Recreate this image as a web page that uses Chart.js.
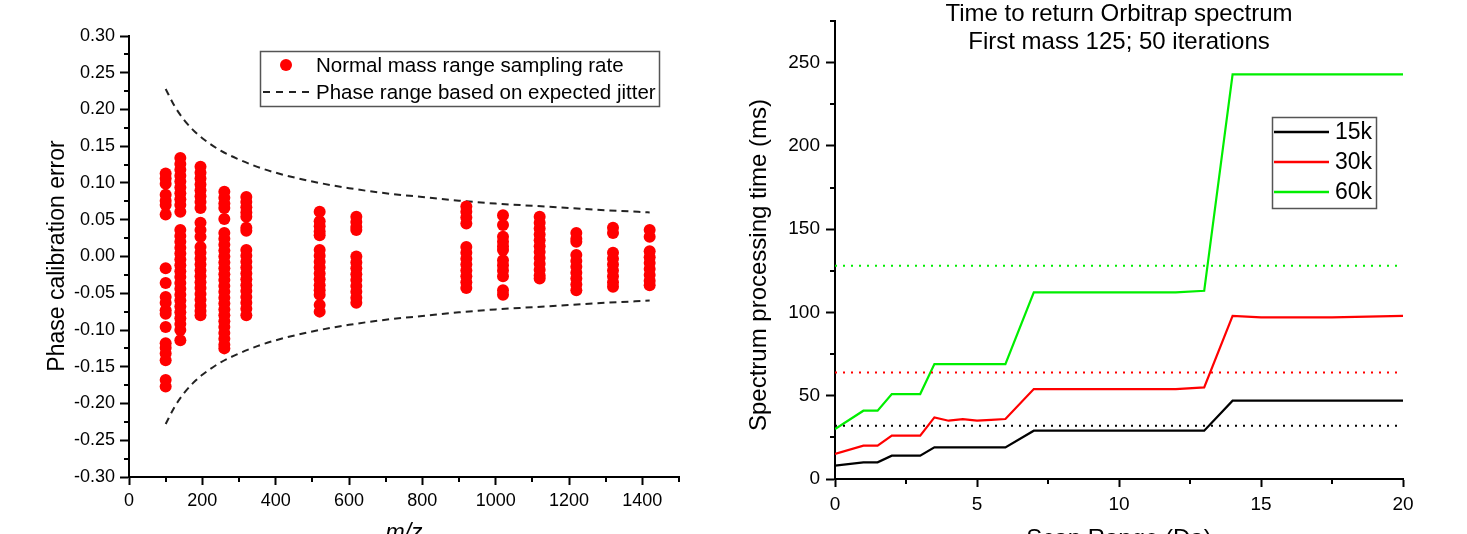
<!DOCTYPE html>
<html><head><meta charset="utf-8">
<script src="https://cdn.jsdelivr.net/npm/chart.js@4"></script>
<style>
html,body{margin:0;padding:0;background:#fff;width:1467px;height:534px;overflow:hidden;}
#c1{position:absolute;left:0;top:0;}
#c2{position:absolute;left:700px;top:0;}
</style></head><body>
<canvas id="c1" width="700" height="534"></canvas>
<canvas id="c2" width="767" height="534"></canvas>
<script>
// ---------- Left chart data: phase calibration error per m/z column ----------
const err100  = [0.113, 0.106, 0.099, 0.084, 0.076, 0.070, 0.057, -0.016, -0.036, -0.055, -0.063, -0.073, -0.078, -0.096, -0.118, -0.124, -0.132, -0.141, -0.168, -0.177];
const err140  = [0.134, 0.126, 0.118, 0.110, 0.102, 0.094, 0.086, 0.078, 0.070, 0.061, 0.036, 0.028, 0.020, 0.012, 0.004, -0.004, -0.012, -0.020, -0.028, -0.036, -0.044, -0.052, -0.060, -0.068, -0.076, -0.084, -0.092, -0.100, -0.114];
const err195  = [0.122, 0.114, 0.106, 0.098, 0.090, 0.082, 0.074, 0.066, 0.046, 0.036, 0.027, 0.013, 0.005, -0.003, -0.011, -0.019, -0.027, -0.035, -0.043, -0.051, -0.059, -0.067, -0.074, -0.080];
const err260  = [0.088, 0.080, 0.072, 0.066, 0.051, 0.032, 0.024, 0.016, 0.008, 0.000, -0.008, -0.016, -0.024, -0.032, -0.040, -0.048, -0.056, -0.064, -0.072, -0.080, -0.088, -0.096, -0.104, -0.112, -0.120, -0.125];
const err320  = [0.081, 0.074, 0.067, 0.060, 0.054, 0.039, 0.035, 0.009, 0.001, -0.007, -0.015, -0.023, -0.031, -0.039, -0.047, -0.055, -0.063, -0.071, -0.080];
const err520  = [0.061, 0.048, 0.041, 0.034, 0.029, 0.009, 0.001, -0.007, -0.015, -0.023, -0.031, -0.039, -0.046, -0.052, -0.066, -0.075];
const err620  = [0.054, 0.047, 0.040, 0.036, 0.000, -0.008, -0.016, -0.024, -0.032, -0.040, -0.048, -0.056, -0.063];
const err920  = [0.068, 0.061, 0.053, 0.045, 0.013, 0.005, -0.003, -0.011, -0.019, -0.027, -0.035, -0.043];
const err1020 = [0.056, 0.043, 0.027, 0.020, 0.014, 0.009, -0.005, -0.012, -0.019, -0.027, -0.046, -0.052];
const err1120 = [0.054, 0.046, 0.038, 0.030, 0.022, 0.014, 0.006, -0.002, -0.010, -0.018, -0.026, -0.030];
const err1220 = [0.032, 0.024, 0.020, 0.002, -0.006, -0.014, -0.022, -0.030, -0.038, -0.046];
const err1320 = [0.039, 0.032, 0.005, -0.003, -0.011, -0.019, -0.027, -0.035, -0.041];
const err1420 = [0.036, 0.027, 0.007, -0.001, -0.009, -0.017, -0.025, -0.033, -0.039];
const columnMz = [100, 140, 195, 260, 320, 520, 620, 920, 1020, 1120, 1220, 1320, 1420];
const columnErr = [err100, err140, err195, err260, err320, err520, err620, err920, err1020, err1120, err1220, err1320, err1420];

// Expected-jitter envelope
const jitterMz    = [100, 125, 150, 175, 200, 250, 300, 350, 400, 500, 600, 700, 800, 900, 1000, 1100, 1200, 1300, 1420];
const jitterUpper = [0.228, 0.204, 0.186, 0.172, 0.161, 0.144, 0.132, 0.122, 0.114, 0.102, 0.093, 0.086, 0.081, 0.076, 0.072, 0.069, 0.066, 0.063, 0.060];
const jitterLower = [-0.228, -0.204, -0.186, -0.172, -0.161, -0.144, -0.132, -0.122, -0.114, -0.102, -0.093, -0.086, -0.081, -0.076, -0.072, -0.069, -0.066, -0.063, -0.060];

const phaseTicks = [-0.30, -0.25, -0.20, -0.15, -0.10, -0.05, 0.00, 0.05, 0.10, 0.15, 0.20, 0.25, 0.30];
const phaseTickLabels = ['-0.30', '-0.25', '-0.20', '-0.15', '-0.10', '-0.05', '0.00', '0.05', '0.10', '0.15', '0.20', '0.25', '0.30'];
const mzTicks = [0, 200, 400, 600, 800, 1000, 1200, 1400];
const mzTickLabels = ['0', '200', '400', '600', '800', '1000', '1200', '1400'];

// ---------- Right chart data ----------
const scanRange = [0, 1, 1.5, 2, 3, 3.5, 4, 4.5, 5, 5.5, 6, 7, 12, 13, 14, 15, 17.5, 20];
const time15k = [8, 10, 10, 14, 14, 19, 19, 19, 19, 19, 19, 29, 29, 29, 47, 47, 47, 47];
const time30k = [15, 20, 20, 26, 26, 37, 35, 36, 35, 35.5, 36, 54, 54, 55, 98, 97, 97, 98];
const time60k = [30, 41, 41, 51, 51, 69, 69, 69, 69, 69, 69, 112, 112, 113, 243, 243, 243, 243];
const refRange = [0, 20];
const ref15k = 32, ref30k = 64, ref60k = 128;
const timeTicks = [0, 50, 100, 150, 200, 250];
const timeTickLabels = ['0', '50', '100', '150', '200', '250'];
const scanTicks = [0, 5, 10, 15, 20];
const scanTickLabels = ['0', '5', '10', '15', '20'];
const seriesNames = ['15k', '30k', '60k'];

const FONT = "'Liberation Sans', Arial, sans-serif";
const RED = '#ff0000', GREEN = '#00ee00', BLACK = '#000000';

// ---------- plugin: minor ticks + custom text ----------
const decorPlugin = {
  id: 'decor',
  afterDraw(chart, args, opts) {
    const ctx = chart.ctx;
    const xs = chart.scales.x, ys = chart.scales.y;
    ctx.save();
    ctx.strokeStyle = '#000';
    ctx.lineWidth = 2;
    (opts.minorX || []).forEach(v => {
      const px = Math.round(xs.getPixelForValue(v));
      ctx.beginPath(); ctx.moveTo(px, ys.bottom); ctx.lineTo(px, ys.bottom + opts.minorLen); ctx.stroke();
    });
    (opts.minorY || []).forEach(v => {
      const py = Math.round(ys.getPixelForValue(v));
      ctx.beginPath(); ctx.moveTo(xs.left, py); ctx.lineTo(xs.left - opts.minorLen, py); ctx.stroke();
    });
    ctx.restore();
    if (opts.draw) opts.draw(chart, ctx);
  }
};

function minorList(a, b, step) { const r = []; for (let v = a; v <= b + 1e-9; v += step) r.push(+v.toFixed(4)); return r; }

// ---------- Left chart ----------
const scatterPts = [];
columnMz.forEach((mz, i) => columnErr[i].forEach(e => scatterPts.push({ x: mz, y: e })));

new Chart(document.getElementById('c1'), {
  type: 'scatter',
  data: {
    datasets: [
      { label: 'Normal mass range sampling rate', data: scatterPts, pointRadius: 6, pointHoverRadius: 6,
        backgroundColor: RED, borderWidth: 0, showLine: false },
      { label: 'Phase range based on expected jitter', data: jitterMz.map((m, i) => ({ x: m, y: jitterUpper[i] })),
        showLine: true, pointRadius: 0, borderColor: '#222', borderWidth: 2, borderDash: [7, 5], cubicInterpolationMode: 'monotone' },
      { label: 'lower', data: jitterMz.map((m, i) => ({ x: m, y: jitterLower[i] })),
        showLine: true, pointRadius: 0, borderColor: '#222', borderWidth: 2, borderDash: [7, 5], cubicInterpolationMode: 'monotone' }
    ]
  },
  options: {
    responsive: false, animation: false, devicePixelRatio: 1,
    layout: { padding: { left: 0, right: 21, top: 36, bottom: 0 } },
    plugins: {
      legend: { display: false }, tooltip: { enabled: false },
      decor: {
        minorLen: 5,
        minorX: minorList(100, 1500, 200),
        minorY: minorList(-0.275, 0.275, 0.05),
        draw(chart, ctx) {
          ctx.save();
          ctx.fillStyle = '#000';
          ctx.font = '23px ' + FONT;
          ctx.translate(64, 256); ctx.rotate(-Math.PI / 2);
          ctx.textAlign = 'center'; ctx.textBaseline = 'alphabetic';
          ctx.fillText('Phase calibration error', 0, 0);
          ctx.restore();
          ctx.save();
          ctx.fillStyle = '#000';
          ctx.font = 'italic 23px ' + FONT;
          ctx.textAlign = 'center'; ctx.textBaseline = 'alphabetic';
          ctx.fillText('m/z', (chart.chartArea.left + chart.chartArea.right) / 2, 540);
          // legend
          ctx.strokeStyle = '#555'; ctx.lineWidth = 1.5;
          ctx.strokeRect(260.5, 51.5, 399, 55);
          ctx.fillStyle = RED;
          ctx.beginPath(); ctx.arc(286, 65, 6, 0, Math.PI * 2); ctx.fill();
          ctx.strokeStyle = '#222'; ctx.lineWidth = 2; ctx.setLineDash([7, 6]);
          ctx.beginPath(); ctx.moveTo(263, 92); ctx.lineTo(311, 92); ctx.stroke();
          ctx.setLineDash([]);
          ctx.fillStyle = '#000'; ctx.font = '20.5px ' + FONT;
          ctx.textAlign = 'left'; ctx.textBaseline = 'middle';
          ctx.fillText('Normal mass range sampling rate', 316, 66);
          ctx.fillText('Phase range based on expected jitter', 316, 93);
          ctx.restore();
        }
      }
    },
    scales: {
      x: {
        type: 'linear', min: 0, max: 1500,
        afterFit: s => { s.height = 57; },
        afterBuildTicks: s => { s.ticks = mzTicks.map(v => ({ value: v })); },
        ticks: { callback: (v, i) => mzTickLabels[i], color: '#000', font: { family: FONT, size: 18 }, padding: 5, maxRotation: 0, autoSkip: false },
        grid: { display: true, drawOnChartArea: false, drawTicks: true, tickLength: 8, tickWidth: 2, tickColor: '#000' },
        border: { display: true, color: '#000', width: 2 }
      },
      y: {
        type: 'linear', min: -0.30, max: 0.30,
        afterFit: s => { s.width = 129; },
        afterBuildTicks: s => { s.ticks = phaseTicks.map(v => ({ value: v })); },
        ticks: { callback: (v, i) => phaseTickLabels[i], color: '#000', font: { family: FONT, size: 18 }, padding: 5, autoSkip: false },
        grid: { display: true, drawOnChartArea: false, drawTicks: true, tickLength: 9, tickWidth: 2, tickColor: '#000' },
        border: { display: true, color: '#000', width: 2 }
      }
    }
  },
  plugins: [decorPlugin]
});

// ---------- Right chart ----------
function series(ys) { return scanRange.map((x, i) => ({ x: x, y: ys[i] })); }
function refLine(v) { return refRange.map(x => ({ x: x, y: v })); }

new Chart(document.getElementById('c2'), {
  type: 'scatter',
  data: {
    datasets: [
      { label: 'ref15k', data: refLine(ref15k), showLine: true, pointRadius: 0, borderColor: BLACK, borderWidth: 2, borderDash: [2, 6] },
      { label: 'ref30k', data: refLine(ref30k), showLine: true, pointRadius: 0, borderColor: RED, borderWidth: 2, borderDash: [2, 6] },
      { label: 'ref60k', data: refLine(ref60k), showLine: true, pointRadius: 0, borderColor: GREEN, borderWidth: 2, borderDash: [2, 6] },
      { label: seriesNames[0], data: series(time15k), showLine: true, pointRadius: 0, borderColor: BLACK, borderWidth: 2.2 },
      { label: seriesNames[1], data: series(time30k), showLine: true, pointRadius: 0, borderColor: RED, borderWidth: 2.2 },
      { label: seriesNames[2], data: series(time60k), showLine: true, pointRadius: 0, borderColor: GREEN, borderWidth: 2.2 }
    ]
  },
  options: {
    responsive: false, animation: false, devicePixelRatio: 1,
    layout: { padding: { left: 0, right: 64, top: 21, bottom: 0 } },
    plugins: {
      legend: { display: false }, tooltip: { enabled: false },
      decor: {
        minorLen: 5,
        minorX: minorList(2.5, 17.5, 5),
        minorY: minorList(25, 275, 50),
        draw(chart, ctx) {
          const ca = chart.chartArea;
          const cx = (ca.left + ca.right) / 2;
          ctx.save();
          ctx.fillStyle = '#000';
          ctx.font = '24px ' + FONT;
          ctx.textAlign = 'center'; ctx.textBaseline = 'alphabetic';
          ctx.fillText('Time to return Orbitrap spectrum', cx, 21);
          ctx.fillText('First mass 125; 50 iterations', cx, 49);
          ctx.fillText('Scan Range (Da)', cx, 546);
          ctx.restore();
          ctx.save();
          ctx.fillStyle = '#000';
          ctx.font = '24px ' + FONT;
          ctx.translate(66, 265); ctx.rotate(-Math.PI / 2);
          ctx.textAlign = 'center'; ctx.textBaseline = 'alphabetic';
          ctx.fillText('Spectrum processing time (ms)', 0, 0);
          ctx.restore();
          // legend
          ctx.save();
          ctx.strokeStyle = '#555'; ctx.lineWidth = 1.5;
          ctx.strokeRect(572.5, 117.5, 104, 91);
          const cols = [BLACK, RED, GREEN];
          const rowsY = [132, 162, 192];
          ctx.font = '23px ' + FONT; ctx.textAlign = 'left'; ctx.textBaseline = 'middle';
          seriesNames.forEach((n, i) => {
            ctx.strokeStyle = cols[i]; ctx.lineWidth = 2.5;
            ctx.beginPath(); ctx.moveTo(574, rowsY[i]); ctx.lineTo(629, rowsY[i]); ctx.stroke();
            ctx.fillStyle = '#000';
            ctx.fillText(n, 635, rowsY[i] + 1);
          });
          ctx.restore();
        }
      }
    },
    scales: {
      x: {
        type: 'linear', min: 0, max: 20,
        afterFit: s => { s.height = 55; },
        afterBuildTicks: s => { s.ticks = scanTicks.map(v => ({ value: v })); },
        ticks: { callback: (v, i) => scanTickLabels[i], color: '#000', font: { family: FONT, size: 19 }, padding: 6, maxRotation: 0, autoSkip: false },
        grid: { display: true, drawOnChartArea: false, drawTicks: true, tickLength: 8, tickWidth: 2, tickColor: '#000' },
        border: { display: true, color: '#000', width: 2 }
      },
      y: {
        type: 'linear', min: 0, max: 275,
        afterFit: s => { s.width = 135; },
        afterBuildTicks: s => { s.ticks = timeTicks.map(v => ({ value: v })); },
        ticks: { callback: (v, i) => timeTickLabels[i], color: '#000', font: { family: FONT, size: 19 }, padding: 6, autoSkip: false },
        grid: { display: true, drawOnChartArea: false, drawTicks: true, tickLength: 9, tickWidth: 2, tickColor: '#000' },
        border: { display: true, color: '#000', width: 2 }
      }
    }
  },
  plugins: [decorPlugin]
});
</script></body></html>
